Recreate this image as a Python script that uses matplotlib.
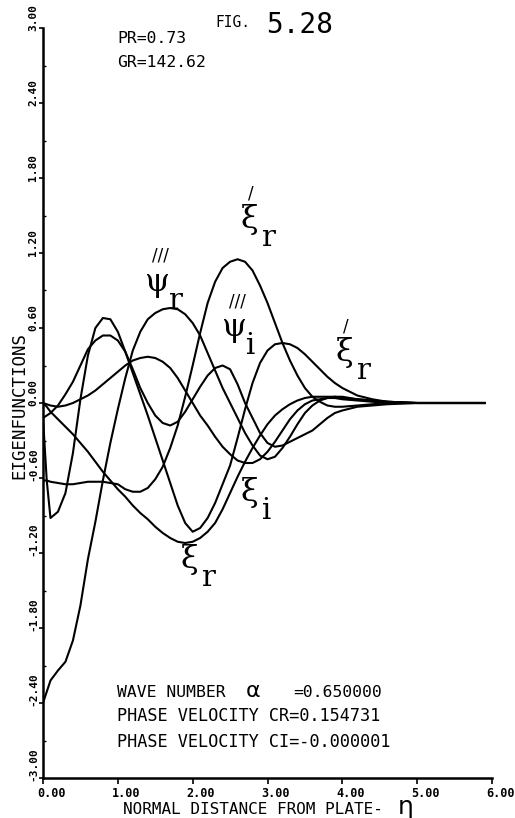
import matplotlib
matplotlib.use("Agg")
import matplotlib.pyplot as plt
from matplotlib.ticker import MultipleLocator
from matplotlib.transforms import ScaledTranslation

# normal distance from plate (eta)
eta = [0.0, 0.05, 0.1,
       0.2, 0.3, 0.4, 0.5, 0.6, 0.7, 0.8, 0.9,
       1.0, 1.1, 1.2, 1.3, 1.4, 1.5, 1.6, 1.7, 1.8, 1.9,
       2.0, 2.1, 2.2, 2.3, 2.4, 2.5, 2.6, 2.7, 2.8, 2.9,
       3.0, 3.1, 3.2, 3.3, 3.4, 3.5, 3.6, 3.7, 3.8, 3.9,
       4.0, 4.2, 4.4, 4.6,
       5.0, 5.5, 5.9]

# eigenfunctions
dxi_r = [-0.62, -0.62, -0.63,
         -0.64, -0.65, -0.65, -0.64, -0.63, -0.63, -0.63, -0.64,
         -0.65, -0.69, -0.71, -0.71, -0.68, -0.61, -0.51, -0.36, -0.18, 0.05,
         0.30, 0.56, 0.80, 0.97, 1.08, 1.13, 1.15, 1.13, 1.06, 0.94,
         0.80, 0.64, 0.48, 0.34, 0.22, 0.12, 0.05, 0.01, -0.02, -0.03,
         -0.03, -0.02, -0.01, 0.0,
         0.0, 0.0, 0.0]

psi3_r = [-2.40, -2.31, -2.22,
          -2.14, -2.07, -1.90, -1.62, -1.25, -0.95, -0.62, -0.32,
          -0.05, 0.20, 0.42, 0.57, 0.67, 0.72, 0.75, 0.76, 0.75, 0.71,
          0.64, 0.54, 0.40, 0.26, 0.12, 0.00, -0.12, -0.24, -0.34, -0.42,
          -0.45, -0.43, -0.36, -0.27, -0.17, -0.08, -0.02, 0.02, 0.04, 0.05,
          0.05, 0.03, 0.02, 0.01,
          0.0, 0.0, 0.0]

xi_r = [0.00, -0.03, -0.07,
        -0.13, -0.19, -0.25, -0.32, -0.39, -0.47, -0.55, -0.62,
        -0.69, -0.75, -0.82, -0.88, -0.93, -0.99, -1.04, -1.08, -1.11, -1.12,
        -1.11, -1.08, -1.03, -0.96, -0.85, -0.72, -0.59, -0.47, -0.36, -0.26,
        -0.17, -0.10, -0.05, -0.01, 0.02, 0.04, 0.05, 0.05, 0.05, 0.05,
        0.04, 0.03, 0.02, 0.01,
        0.0, 0.0, 0.0]

xi_i = [-0.12, -0.62, -0.92,
        -0.87, -0.72, -0.40, 0.03, 0.38, 0.60, 0.68, 0.67,
        0.57, 0.41, 0.24, 0.07, -0.10, -0.28, -0.46, -0.64, -0.82, -0.96,
        -1.03, -1.00, -0.92, -0.80, -0.65, -0.50, -0.28, -0.05, 0.16, 0.32,
        0.42, 0.47, 0.48, 0.47, 0.44, 0.39, 0.33, 0.27, 0.21, 0.16,
        0.12, 0.06, 0.03, 0.01,
        0.0, 0.0, 0.0]

psi3_i = [-0.12, -0.10, -0.08,
          -0.02, 0.07, 0.17, 0.30, 0.43, 0.50, 0.54, 0.54,
          0.50, 0.41, 0.27, 0.12, 0.00, -0.10, -0.16, -0.18, -0.15, -0.07,
          0.03, 0.13, 0.22, 0.28, 0.30, 0.27, 0.15, 0.00, -0.12, -0.24,
          -0.32, -0.35, -0.34, -0.31, -0.28, -0.25, -0.22, -0.17, -0.12, -0.08,
          -0.06, -0.03, -0.02, -0.01,
          0.0, 0.0, 0.0]

psi2_i = [0.00, -0.01, -0.02,
          -0.03, -0.02, 0.00, 0.03, 0.06, 0.10, 0.15, 0.20,
          0.25, 0.30, 0.34, 0.36, 0.37, 0.36, 0.33, 0.28, 0.20, 0.10,
          0.00, -0.10, -0.18, -0.27, -0.35, -0.41, -0.46, -0.48, -0.48, -0.45,
          -0.39, -0.31, -0.22, -0.13, -0.06, -0.01, 0.02, 0.03, 0.04, 0.04,
          0.03, 0.02, 0.01, 0.0,
          0.0, 0.0, 0.0]

x_ticks = [0, 1, 2, 3, 4, 5, 6]
x_ticklabels = ["0.00", "1.00", "2.00", "3.00", "4.00", "5.00", "6.00"]
y_ticks = [3.0, 2.4, 1.8, 1.2, 0.6, 0.0, -0.6, -1.2, -1.8, -2.4, -3.0]
y_ticklabels = ["3.00", "2.40", "1.80", "1.20", "0.60", "0.00",
                "-0.60", "-1.20", "-1.80", "-2.40", "-3.00"]

W, H = 515, 818
MONO = "DejaVu Sans Mono"
SERIF = "DejaVu Serif"

fig = plt.figure(figsize=(W / 100, H / 100), dpi=100)
ax = fig.add_axes([43 / W, 40 / H, 449 / W, 750 / H])

for ys in [dxi_r, psi3_r, xi_r, xi_i, psi3_i, psi2_i]:
    ax.plot(eta, ys, color="black", lw=1.5)

ax.set_xlim(0, 6)
ax.set_ylim(-3, 3)
for side in ("top", "right"):
    ax.spines[side].set_visible(False)
for side in ("left", "bottom"):
    ax.spines[side].set_linewidth(1.8)

ax.tick_params(axis="x", direction="out", length=4, width=1.2, pad=2.5)
ax.tick_params(axis="y", direction="out", length=3, width=1.2, pad=4)
ax.yaxis.set_minor_locator(MultipleLocator(0.3))
ax.tick_params(axis="y", which="minor", direction="in", length=2.5, width=1)

ax.set_xticks(x_ticks, x_ticklabels, fontsize=8.5, family=MONO,
              fontweight="bold", ha="left")
ax.set_yticks(y_ticks, y_ticklabels, fontsize=8, family=MONO,
              fontweight="bold", rotation=90, ha="center", va="bottom")
for lab in ax.get_xticklabels():
    lab.set_transform(lab.get_transform()
                      + ScaledTranslation(-0.06, 0, fig.dpi_scale_trans))
for lab in ax.get_yticklabels():
    lab.set_transform(lab.get_transform()
                      + ScaledTranslation(0, -0.03, fig.dpi_scale_trans))

ax.set_ylabel("EIGENFUNCTIONS", fontsize=12.5, family=MONO)
ax.yaxis.set_label_coords((19 - 43) / 449, 0.497)
ax.yaxis.label.set_va("center")


def put(px, py, s, **kw):
    kw.setdefault("va", "baseline")
    kw.setdefault("family", MONO)
    kw.setdefault("fontsize", 11.8)
    return fig.text(px / W, 1 - py / H, s, **kw)


def glabel(px, py, sym, sub, marks="", sub_dx=21):
    put(px, py, sym, family=SERIF, fontsize=23)
    put(px + sub_dx, py + 18, sub, family=SERIF, fontsize=21)
    if marks:
        put(px + 7, py - 30, marks, family="DejaVu Sans", fontsize=12)


put(215, 27, "FIG.", fontsize=10.5)
put(266, 33, "5.28", fontsize=20)
put(117, 43, "PR=0.73")
put(117, 67, "GR=142.62")

put(117, 697, "WAVE NUMBER")
put(246, 697, "\u03b1", family="DejaVu Sans", fontsize=16)
put(293, 697, "=0.650000")
put(117, 721, "PHASE VELOCITY CR=0.154731", fontsize=12.2)
put(117, 747, "PHASE VELOCITY CI=-0.000001", fontsize=12.2)

put(123, 814, "NORMAL DISTANCE FROM PLATE-", fontsize=11.5)
put(398, 814, "\u03b7", family="DejaVu Sans", fontsize=18)

glabel(241, 228, "\u03be", "r", "/")
glabel(145, 291, "\u03c8", "r", "///", sub_dx=24)
glabel(222, 336, "\u03c8", "i", "///", sub_dx=24)
glabel(336, 361, "\u03be", "r", "/")
glabel(241, 501, "\u03be", "i")
glabel(181, 568, "\u03be", "r")

fig.savefig("out.png", dpi=100)
